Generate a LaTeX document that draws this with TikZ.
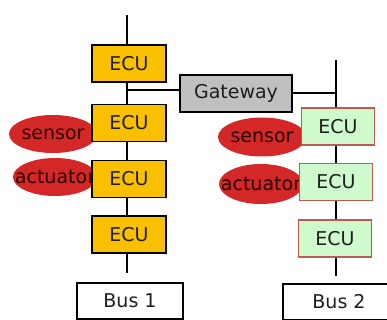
\documentclass[tikz,border=0pt]{standalone}
\usepackage{fontspec}
\setmainfont{DejaVu Sans}
\usetikzlibrary{shapes.geometric}
\definecolor{ecuor}{RGB}{249,192,0}
\definecolor{ecugr}{RGB}{206,250,206}
\definecolor{ecugrb}{RGB}{190,90,80}
\definecolor{gwgray}{RGB}{192,192,192}
\definecolor{ellred}{RGB}{212,40,40}
\definecolor{txt}{RGB}{30,30,30}
\tikzset{
  lbl/.style={font=\fontsize{19}{22}\selectfont, text=txt},
  ecua/.style={lbl, draw=black, line width=1.3pt, fill=ecuor, minimum width=74pt, minimum height=37pt, inner sep=0pt},
  ecub/.style={lbl, draw=ecugrb, line width=1.1pt, fill=ecugr, minimum width=73pt, minimum height=37pt, inner sep=0pt},
  gwbox/.style={lbl, draw=black, line width=1.3pt, fill=gwgray, minimum width=112pt, minimum height=37pt, inner sep=0pt},
  busbox/.style={lbl, draw=black, line width=1.1pt, fill=white, minimum height=36pt, inner sep=0pt},
  dev/.style={lbl, ellipse, fill=ellred, inner sep=0pt, text=black!85!red},
  wire/.style={draw=black, line width=1.3pt}
}
\begin{document}
\begin{tikzpicture}[x=1pt,y=-1pt]
\useasboundingbox (0,0) rectangle (387,320);
\clip (0,0) rectangle (387,320);
\fill[white] (0,0) rectangle (387,320);
% sensors / actuators
\node[dev, minimum width=88pt, minimum height=38pt] (s1) at (53,134) {\makebox[0pt]{sensor}};
\node[dev, minimum width=84pt, minimum height=38pt] (a1) at (55,177) {\makebox[0pt]{actuator}};
\node[dev, minimum width=88pt, minimum height=39pt] (s2) at (262,137) {\makebox[0pt]{sensor}};
\node[dev, minimum width=84pt, minimum height=40pt] (a2) at (261,184) {\makebox[0pt]{actuator}};
% ECUs bus 1
\node[ecua] (e1) at (129,63.5) {ECU};
\node[ecua] (e2) at (129,123) {ECU};
\node[ecua] (e3) at (129,179) {ECU};
\node[ecua] (e4) at (129,234.5) {ECU};
% ECUs bus 2
\node[ecub] (f1) at (338,126.5) {ECU};
\node[ecub] (f2) at (336,182) {ECU};
\node[ecub] (f3) at (335,238.5) {ECU};
% gateway
\node[gwbox] (gw) at (236,93.5) {Gateway};
% bus boxes
\node[busbox, minimum width=106pt] (b1) at (130,301) {Bus 1};
\node[busbox, minimum width=112pt] (b2) at (339,302) {Bus 2};
% bus lines
\coordinate (t1) at (127,15);
\coordinate (u1) at (127,273);
\coordinate (g1) at (127,90);
\coordinate (t2) at (336,60);
\coordinate (u2) at (336,276);
\coordinate (g2) at (336,93);
\draw[wire] (t1) -- (t1 |- e1.north);
\draw[wire] (e1.south -| t1) -- (e2.north -| t1);
\draw[wire] (e2.south -| t1) -- (e3.north -| t1);
\draw[wire] (e3.south -| t1) -- (e4.north -| t1);
\draw[wire] (e4.south -| t1) -- (u1);
\draw[wire] (gw.west |- g1) -- (g1);
\draw[wire] (t2) -- (t2 |- f1.north);
\draw[wire] (f1.south -| t2) -- (f2.north -| t2);
\draw[wire] (f2.south -| t2) -- (f3.north -| t2);
\draw[wire] (f3.south -| t2) -- (u2);
\draw[wire] (gw.east |- g2) -- (g2);
\end{tikzpicture}
\end{document}
